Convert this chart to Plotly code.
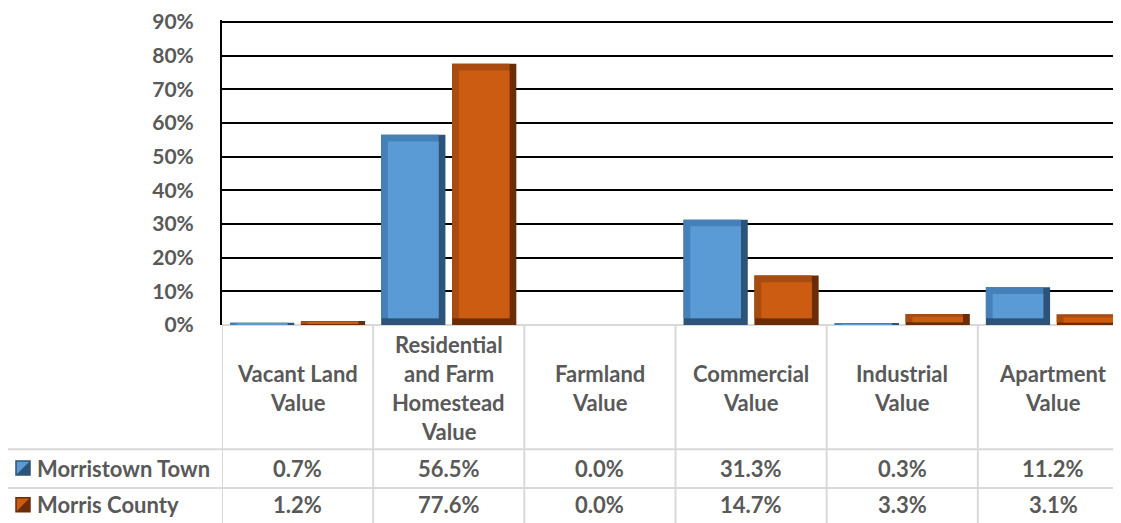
import plotly.graph_objects as go

# ---- data ----
categories = ["Vacant Land<br>Value", "Residential<br>and Farm<br>Homestead<br>Value",
              "Farmland<br>Value", "Commercial<br>Value", "Industrial<br>Value", "Apartment<br>Value"]
series_names = ["Morristown Town", "Morris County"]
morristown = [0.7, 56.5, 0.0, 31.3, 0.3, 11.2]
morris_county = [1.2, 77.6, 0.0, 14.7, 3.3, 3.1]
y_ticks = [0, 10, 20, 30, 40, 50, 60, 70, 80, 90]

# ---- style ----
W, H = 1121, 523
OFF = 8                       # page body margin
ML, MT, MB = 222 - OFF, 18 - OFF, 523 - (325 - OFF)
TEXT = "#595959"
FONT = "Lato"
GRID_T = "#D9D9D9"
styles = [
    dict(dark="#2D5478", mid="#4680B8", face="#5B9BD5", offset=-0.447),
    dict(dark="#6B2D06", mid="#A94C0F", face="#CB5C12", offset=0.022),
]
BAR_W = 0.425
BEV_X = 0.045      # category units
BEV_Y = 2.0        # percent units
TXT_SIZE = 22
TICK_SIZE = 21
Y_MAX = 90.6

x = list(range(len(categories)))
fig = go.Figure()
for vals, st, name in zip([morristown, morris_county], styles, series_names):
    bev_y = [min(BEV_Y, v * 0.25) for v in vals]
    fig.add_trace(go.Bar(x=x, y=vals, offset=st["offset"], width=BAR_W,
                         marker=dict(color=st["dark"], line=dict(width=0)),
                         name=name, hoverinfo="skip", showlegend=False))
    fig.add_trace(go.Bar(x=x, y=[v - b for v, b in zip(vals, bev_y)], base=bev_y,
                         offset=st["offset"], width=BAR_W - BEV_X,
                         marker=dict(color=st["mid"], line=dict(width=0)),
                         hoverinfo="skip", showlegend=False))
    fig.add_trace(go.Bar(x=x, y=[max(v - 2 * b, 0) for v, b in zip(vals, bev_y)], base=bev_y,
                         offset=st["offset"] + BEV_X, width=BAR_W - 2 * BEV_X,
                         marker=dict(color=st["face"], line=dict(width=0)),
                         hoverinfo="skip", showlegend=False))

plot_h = H - MT - MB
fig.update_layout(
    width=W, height=H, barmode="overlay",
    margin=dict(l=ML, r=0, t=MT, b=MB),
    paper_bgcolor="white", plot_bgcolor="white",
    font=dict(family=FONT, color=TEXT, size=TXT_SIZE),
    xaxis=dict(range=[-0.5, 5.5], showticklabels=False, showgrid=False,
               zeroline=False, showline=False, fixedrange=True),
    yaxis=dict(range=[0, Y_MAX], tickvals=y_ticks, ticktext=[f"{t}%" for t in y_ticks],
               tickfont=dict(family=FONT, size=TICK_SIZE, color=TEXT, weight="bold"),
               showgrid=True, gridcolor="black", gridwidth=2,
               zeroline=True, zerolinecolor=GRID_T, zerolinewidth=2,
               showline=True, linecolor="black", linewidth=2,
               ticks="", ticklabelstandoff=22, ticklabeloverflow="allow",
               fixedrange=True),
)

def py(pix):
    """page pixel y -> paper y"""
    return (H - MB - (pix - OFF)) / plot_h

def px(pix):
    """page pixel x -> paper x"""
    return (pix - OFF - ML) / (W - ML)

# ---- table grid ----
line = dict(color=GRID_T, width=2)
n = len(categories)
for i in range(n + 1):
    fig.add_shape(type="line", xref="x", yref="paper", x0=i - 0.5, x1=i - 0.5,
                  y0=py(325), y1=py(540), line=line)
for yy in (450, 489):
    fig.add_shape(type="line", xref="paper", yref="paper", x0=px(7), x1=1,
                  y0=py(yy), y1=py(yy), line=line)
fig.add_shape(type="line", xref="paper", yref="paper", x0=px(7), x1=px(7),
              y0=py(450), y1=py(540), line=line)

# ---- header text ----
LINE_SP = 29
for i, cat in enumerate(categories):
    parts = cat.split("<br>")
    k = len(parts)
    for j, p in enumerate(parts):
        fig.add_annotation(xref="x", yref="paper", x=i, y=py(388), text=p,
                           showarrow=False, xanchor="center", yanchor="middle",
                           yshift=-(j - (k - 1) / 2) * LINE_SP,
                           font=dict(family=FONT, size=TXT_SIZE, color=TEXT, weight="bold"))

# ---- rows ----
row_y = [469, 506]
for vals, st, name, ry in zip([morristown, morris_county], styles, series_names, row_y):
    # legend key
    fig.add_shape(type="rect", xref="paper", yref="paper",
                  x0=px(16), x1=px(30), y0=py(ry - 7), y1=py(ry + 7),
                  fillcolor=st["face"], line=dict(color=st["dark"], width=1.5))
    fig.add_shape(type="path", xref="paper", yref="paper",
                  path=f"M {px(30)},{py(ry - 7)} L {px(30)},{py(ry + 7)} L {px(16)},{py(ry + 7)} Z",
                  fillcolor=st["dark"], line=dict(width=0))
    fig.add_annotation(xref="paper", yref="paper", x=px(35), y=py(ry),
                       text=name, showarrow=False, xanchor="left", yanchor="middle",
                       font=dict(family=FONT, size=TXT_SIZE, color=TEXT, weight="bold"))
    for i, v in enumerate(vals):
        fig.add_annotation(xref="x", yref="paper", x=i, y=py(ry), text=f"{v:.1f}%",
                           showarrow=False, xanchor="center", yanchor="middle",
                           font=dict(family=FONT, size=TXT_SIZE, color=TEXT, weight="bold"))

fig.write_html("out.html", config={"displayModeBar": False})
